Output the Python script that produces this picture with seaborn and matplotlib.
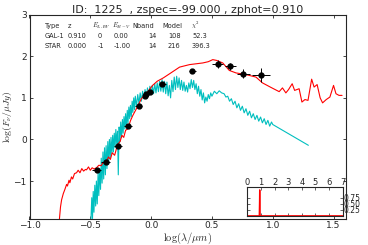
import numpy as np
import pandas as pd
import matplotlib
matplotlib.use("Agg")
import matplotlib.pyplot as plt
import seaborn as sns

# photometry (14 bands)
obs_lam = [-0.449, -0.373, -0.272, -0.190, -0.102, -0.048, -0.039, -0.007,
           0.092, 0.340, 0.548, 0.652, 0.758, 0.903]
obs_flux = [-0.736, -0.535, -0.161, 0.336, 0.815, 1.055, 1.086, 1.144,
            1.343, 1.655, 1.815, 1.758, 1.583, 1.552]
obs_lam_err = [0.04, 0.035, 0.035, 0.03, 0.03, 0.02, 0.02, 0.02,
               0.03, 0.03, 0.045, 0.045, 0.055, 0.075]
obs_flux_err = [0.03, 0.03, 0.03, 0.03, 0.03, 0.02, 0.02, 0.02,
                0.03, 0.05, 0.1, 0.09, 0.11, 0.17]

# best-fit galaxy template (GAL-1)
gal_lam = [-0.755, -0.745, -0.736, -0.722, -0.709, -0.695, -0.688, -0.675, -0.668,
           -0.655, -0.645, -0.630, -0.613, -0.600, -0.585, -0.570, -0.555, -0.540,
           -0.531, -0.515, -0.500, -0.485, -0.470, -0.449, -0.430, -0.410, -0.395,
           -0.380, -0.367, -0.350, -0.335, -0.320, -0.300, -0.285, -0.270, -0.255,
           -0.240, -0.225, -0.210, -0.190, -0.170, -0.150, -0.121, -0.100, -0.080,
           -0.050, -0.020, 0.012, 0.050, 0.100, 0.152, 0.234, 0.316, 0.425,
           0.470, 0.507, 0.540, 0.589, 0.643, 0.698, 0.780, 0.862, 0.916,
           0.980, 1.053, 1.080, 1.108, 1.130, 1.160, 1.180, 1.217, 1.240,
           1.265, 1.290, 1.320, 1.340, 1.365, 1.390, 1.410, 1.440, 1.470,
           1.500, 1.520, 1.545, 1.570]
gal_flux = [-1.95, -1.62, -1.45, -1.30, -1.20, -1.08, -1.12, -0.98, -1.04,
            -0.90, -0.95, -0.82, -0.80, -0.74, -0.80, -0.70, -0.76, -0.72,
            -0.73, -0.66, -0.74, -0.68, -0.71, -0.68, -0.62, -0.63, -0.55,
            -0.58, -0.52, -0.42, -0.48, -0.32, -0.38, -0.22, -0.10, -0.05,
            0.10, 0.05, 0.22, 0.26, 0.45, 0.58, 0.74, 0.86, 0.98,
            1.08, 1.18, 1.30, 1.40, 1.48, 1.58, 1.74, 1.80, 1.84,
            1.87, 1.92, 1.90, 1.84, 1.66, 1.60, 1.56, 1.50, 1.36,
            1.26, 1.15, 1.24, 1.12, 1.20, 1.34, 1.18, 1.22, 0.90,
            0.96, 0.94, 1.45, 1.26, 1.32, 1.00, 0.88, 0.96, 1.02,
            1.30, 1.10, 1.06, 1.06]

# best-fit stellar template (STAR)
star_lam = [-0.495, -0.488, -0.482, -0.476, -0.470, -0.463, -0.456, -0.450, -0.443,
            -0.436, -0.430, -0.423, -0.416, -0.410, -0.403, -0.396, -0.390, -0.383,
            -0.376, -0.370, -0.363, -0.356, -0.350, -0.343, -0.336, -0.330, -0.323,
            -0.316, -0.310, -0.303, -0.296, -0.290, -0.283, -0.276, -0.270, -0.263,
            -0.256, -0.250, -0.243, -0.236, -0.230, -0.223, -0.216, -0.210, -0.203,
            -0.196, -0.190, -0.183, -0.176, -0.170, -0.163, -0.156, -0.150, -0.143,
            -0.136, -0.130, -0.120, -0.110, -0.100, -0.090, -0.080, -0.070, -0.060,
            -0.050, -0.040, -0.030, -0.020, -0.010, 0.000, 0.010, 0.020, 0.030,
            0.040, 0.050, 0.060, 0.070, 0.080, 0.090, 0.100, 0.110, 0.120,
            0.130, 0.140, 0.150, 0.160, 0.170, 0.180, 0.190, 0.200, 0.210,
            0.220, 0.230, 0.240, 0.250, 0.260, 0.270, 0.280, 0.290, 0.300,
            0.310, 0.320, 0.330, 0.340, 0.350, 0.360, 0.370, 0.380, 0.390,
            0.400, 0.410, 0.420, 0.430, 0.440, 0.450, 0.460, 0.470, 0.480,
            0.490, 0.500, 0.520, 0.540, 0.560, 0.580, 0.600, 0.615, 0.630,
            0.645, 0.660, 0.675, 0.690, 0.705, 0.720, 0.735, 0.750, 0.765,
            0.780, 0.795, 0.810, 0.825, 0.840, 0.855, 0.870, 0.885, 0.900,
            0.915, 0.930, 0.945, 0.960, 0.975, 0.990, 1.000, 1.293]
star_flux = [-1.95, -1.40, -1.90, -1.25, -1.75, -1.10, -1.60, -1.00, -1.55,
             -0.80, -1.35, -0.70, -1.20, -0.45, -1.05, -0.30, -0.95, -0.20,
             -0.85, -0.15, -0.70, -0.05, -0.60, 0.00, -0.45, 0.05, -0.35,
             0.10, -0.30, 0.15, -0.20, 0.24, -0.10, 0.20, -0.85, 0.30,
             -0.05, 0.42, 0.05, 0.48, 0.15, 0.55, 0.25, 0.62, 0.30,
             0.70, 0.40, 0.78, 0.50, 0.82, 0.55, 0.92, 0.65, 1.00,
             0.72, 1.04, 0.80, 1.08, 0.86, 1.12, 0.92, 1.16, 0.98,
             1.20, 1.00, 1.24, 1.05, 1.28, 1.08, 1.30, 1.10, 1.34,
             1.12, 1.36, 1.15, 1.40, 1.16, 1.44, 1.14, 1.40, 1.10,
             1.38, 1.05, 1.30, 1.00, 1.42, 1.15, 1.50, 1.20, 1.52,
             1.25, 1.48, 1.20, 1.42, 1.18, 1.38, 1.16, 1.30, 1.14,
             1.36, 1.22, 1.44, 1.25, 1.42, 1.20, 1.34, 1.10, 1.28,
             1.04, 1.20, 0.95, 1.12, 0.88, 1.02, 0.92, 1.08, 0.98,
             1.12, 1.04, 1.16, 1.10, 1.17, 1.12, 1.10, 1.02, 1.04,
             0.92, 0.98, 0.84, 0.92, 0.76, 0.86, 0.70, 0.80, 0.64,
             0.74, 0.58, 0.68, 0.52, 0.62, 0.48, 0.58, 0.44, 0.54,
             0.40, 0.50, 0.36, 0.46, 0.32, 0.42, 0.36, -0.14]

# redshift probability distribution (inset)
pdf_z = [0.0, 0.80, 0.88, 0.90, 0.91, 0.92, 0.94, 1.02, 7.0]
pdf_p = [0.0, 0.0, 0.0, 0.6, 1.09, 0.6, 0.0, 0.0, 0.0]

title_text = "ID:  1225  , zspec=-99.000 , zphot=0.910"
table_rows = [
    ["Type", "z", r"$E_{LAW}$", r"$E_{B-V}$", "Nband", "Model", r"$\chi^2$"],
    ["GAL-1", "0.910", "0", "0.00", "14", "108", "52.3"],
    ["STAR", "0.000", "-1", "-1.00", "14", "216", "396.3"],
]

sns.set_style("ticks")
plt.rcParams["font.family"] = ["DejaVu Sans"]
plt.rcParams["mathtext.fontset"] = "cm"
plt.rcParams["xtick.direction"] = "in"
plt.rcParams["ytick.direction"] = "in"

W, H = 368, 245
fig = plt.figure(figsize=(W / 100, H / 100), dpi=100)
ax = fig.add_axes([29.5 / W, 1 - 218.5 / H, 316.2 / W, 203.8 / H])

gal = pd.DataFrame({"lam": gal_lam, "flux": gal_flux})
star = pd.DataFrame({"lam": star_lam, "flux": star_flux})
sns.lineplot(data=star, x="lam", y="flux", sort=False, estimator=None,
             color="c", lw=0.8, ax=ax)
sns.lineplot(data=gal, x="lam", y="flux", sort=False, estimator=None,
             color="r", lw=0.8, ax=ax)
ax.errorbar(obs_lam, obs_flux, xerr=obs_lam_err, yerr=obs_flux_err,
            fmt="o", color="k", ms=3.5, lw=0.7, capsize=0, zorder=5)

ax.set_xlim(-1.0, 1.6)
ax.set_ylim(-1.9, 3.0)
ax.set_xticks([-1.0, -0.5, 0.0, 0.5, 1.0, 1.5])
ax.set_yticks([-1, 0, 1, 2, 3])
ax.set_yticklabels(["\u22121", "0", "1", "2", "3"])
ax.set_xticklabels(["\u22121.0", "\u22120.5", "0.0", "0.5", "1.0", "1.5"])
ax.tick_params(top=True, right=True, labelsize=6.5, length=2.5, width=0.6, pad=2)
ax.set_xlabel(r"$\log(\lambda/\mu m)$", fontsize=7.5, labelpad=0)
ax.set_ylabel(r"$\log(F_\nu/\mu Jy)$", fontsize=7)
ax.yaxis.set_label_coords(-0.05, 0.5)
for s in ax.spines.values():
    s.set_linewidth(0.8)
    s.set_visible(True)
ax.set_title(title_text, fontsize=8, pad=1.5)

# fit summary table
col_x = [45, 68, 92, 112, 132, 162, 191]
row_y = [25.7, 36.0, 45.5]
num_x = [45, 68, 98, 114, 148, 168, 192]
for r, row in enumerate(table_rows):
    for c, cell in enumerate(row):
        px = col_x[c] if r == 0 else num_x[c]
        fig.text(px / W, 1 - row_y[r] / H, cell, fontsize=4.8,
                 va="center", ha="left")

# inset: P(z)
axi = fig.add_axes([247.3 / W, 1 - 216.3 / H, 95.4 / W, 29 / H])
pdf = pd.DataFrame({"z": pdf_z, "p": pdf_p})
sns.lineplot(data=pdf, x="z", y="p", sort=False, estimator=None,
             color="r", lw=1.0, ax=axi)
axi.set_xlim(0, 7)
axi.set_ylim(-0.02, 1.2)
axi.set_xticks(range(8))
axi.set_yticks([0.25, 0.50, 0.75])
axi.set_yticklabels(["0.25", "0.50", "0.75"])
axi.xaxis.tick_top()
axi.yaxis.tick_right()
axi.tick_params(axis="both", labelsize=6, length=2, width=0.5, pad=0.5,
                top=True, bottom=True, left=True, right=True)
axi.tick_params(axis="y", labelsize=5.5)
axi.set_xlabel("")
axi.set_ylabel("")
for s in axi.spines.values():
    s.set_linewidth(0.8)
    s.set_visible(True)

fig.savefig("out.png", dpi=100)
